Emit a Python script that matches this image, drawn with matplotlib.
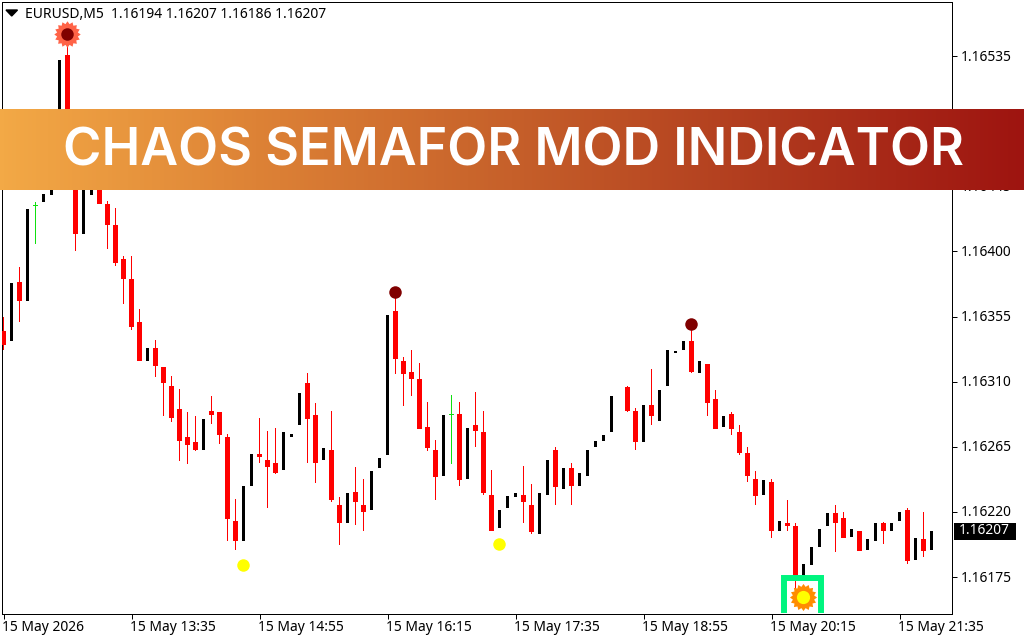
import numpy as np
import matplotlib
matplotlib.use("Agg")
import matplotlib.pyplot as plt
from matplotlib.colors import LinearSegmentedColormap
from matplotlib.lines import Line2D
from matplotlib.patches import Rectangle
from matplotlib.path import Path
from matplotlib.transforms import ScaledTranslation

BASE = 1.16
nan = float("nan")
# Prices in points above BASE (1 point = 0.00001)
opens = [345,338,379,366,432,434,439,470,536,463,412,439,446,433,418,395,381,351,324,333,
         320,307,291,272,268,263,290,289,272,214,200,238,260,256,254,249,272,280,309,287,
         256,263,225,212,234,225,221,250,259,359,324,317,312,279,263,245,287,288,243,280,
         275,232,209,223,230,232,225,205,232,263,236,250,238,245,265,269,275,nan,306,290,
         268,294,283,307,330,332,338,316,322,298,279,288,275,261,243,232,241,207,212,210,
         176,183,196,210,219,216,203,207,194,200,212,207,214,221,187,201,194]
highs = [355,378,389,429,434,440,463,532,543,470,456,453,446,435,430,397,397,360,333,339,
         320,314,305,289,286,284,300,289,274,229,238,260,285,276,278,275,274,302,316,295,
         264,290,230,233,251,243,248,257,356,368,327,332,323,296,270,287,301,296,278,303,
         290,249,221,231,233,252,239,233,256,265,250,254,247,263,269,273,300,nan,307,292,
         294,319,304,332,331,338,348,324,322,304,286,289,280,265,248,242,243,214,228,212,
         184,196,208,219,225,220,208,207,201,212,213,212,220,223,202,220,207]
lows = [332,338,351,366,405,434,439,470,484,400,412,439,433,402,390,364,346,324,324,313,
        286,282,255,253,262,263,281,267,200,194,200,238,254,223,246,249,272,280,254,240,
        256,227,197,212,211,207,221,250,259,315,293,300,277,262,228,245,253,238,243,265,
        232,207,209,223,230,212,205,205,232,225,236,225,238,245,265,269,275,nan,289,263,
        268,280,283,307,330,332,316,316,286,277,279,273,259,241,225,232,202,207,207,166,
        176,183,196,210,192,202,203,193,194,200,198,207,214,184,187,189,194]
closes = [335,378,366,429,432,440,463,532,487,412,456,453,433,418,392,381,348,324,333,321,
          309,285,269,266,263,284,287,273,215,200,238,260,258,251,247,275,274,302,284,254,
          264,228,212,233,227,220,248,257,356,326,315,312,277,264,244,287,287,242,278,276,
          233,207,221,231,233,227,206,233,256,237,250,238,247,263,269,273,300,nan,290,268,
          294,286,304,332,331,338,317,324,295,277,286,277,261,245,231,242,207,214,210,176,
          184,196,208,219,212,202,208,193,201,212,207,212,220,186,202,193,207]

# Semaphore signals: bar index and price in points
big_high_idx, big_high_val = [8], [550]
dot_high_idx, dot_high_val = [49, 86], [372, 350]
dot_low_idx, dot_low_val = [30, 62], [183, 198]
big_low_idx, big_low_val = [100], [161]

y_ticks = [1.16175, 1.16220, 1.16265, 1.16310, 1.16355, 1.16400, 1.16445, 1.16490, 1.16535]
x_tick_idx = [0, 16, 32, 48, 64, 80, 96, 112]
x_tick_labels = ["15 May 2026", "15 May 13:35", "15 May 14:55", "15 May 16:15",
                 "15 May 17:35", "15 May 18:55", "15 May 20:15", "15 May 21:35"]
title_text = "EURUSD,M5  1.16194 1.16207 1.16186 1.16207"
last_price = 1.16207
banner_text = "CHAOS SEMAFOR MOD INDICATOR"
banner_colors = ["#F3A946", "#DD8236", "#C6602A", "#B03A1E", "#9E1410"]

W, H = 1024, 640
FONT = "Noto Sans"
plt.rcParams["font.family"] = [FONT, "DejaVu Sans"]
fig = plt.figure(figsize=(W / 100, H / 100), dpi=100, facecolor="white")

def rect(x0, y0, x1, y1):
    return [x0 / W, 1 - y1 / H, (x1 - x0) / W, (y1 - y0) / H]

ax = fig.add_axes(rect(2.0, 1.5, 952.0, 613.5))
ax.set_xlim(-0.1875, 118.5625)
ax.set_ylim(BASE + 149.8e-5, BASE + 572.7e-5)

o, h, l, c = [np.array(v, float) * 1e-5 + BASE for v in (opens, highs, lows, closes)]
idx = np.arange(len(o))
down = c < o
up = c > o
doji = o == c

PX = 1 / 8          # one pixel in bar-index units
PY = 0.69e-5        # one pixel in price units
bar_kw = dict(antialiased=False, linewidth=0)
ax.bar(idx[down], (h - l)[down], bottom=l[down], width=PX, color="#FF0000", zorder=2, **bar_kw)
ax.bar(idx[down], (o - c)[down], bottom=c[down], width=5 * PX, color="#FF0000", zorder=3, **bar_kw)
ax.bar(idx[up], (c - o)[up], bottom=o[up], width=3 * PX, color="#000000", zorder=3, **bar_kw)
ax.bar(idx[doji], (h - l)[doji], bottom=l[doji], width=PX, color="#11E011", zorder=3, **bar_kw)
ax.bar(idx[doji], PY, bottom=o[doji] - PY / 2, width=5 * PX, color="#11E011", zorder=3, **bar_kw)

def burst(n=16, inner=0.8):
    ang = np.linspace(0, 2 * np.pi, 2 * n, endpoint=False)
    rad = np.where(np.arange(2 * n) % 2 == 0, 1.0, inner)
    p = np.c_[rad * np.sin(ang), rad * np.cos(ang)]
    return Path(np.vstack([p, p[0]]), closed=True)

def pts(v):
    return np.array(v, float) * 1e-5 + BASE

sun = burst()
mark_tf = ax.transData + ScaledTranslation(-1 / 100, 0, fig.dpi_scale_trans)
ax.plot(big_high_idx, pts(big_high_val), ls="", marker=sun, ms=19, mfc="#FF6347", mec="none", zorder=5, transform=mark_tf)
ax.plot(big_high_idx, pts(big_high_val), ls="", marker="o", ms=9, mfc="#800000", mec="none", zorder=6, transform=mark_tf)
ax.plot(dot_high_idx, pts(dot_high_val), ls="", marker="o", ms=9, mfc="#800000", mec="none", zorder=6, transform=mark_tf)
ax.plot(dot_low_idx, pts(dot_low_val), ls="", marker="o", ms=9, mfc="#FFFF00", mec="none", zorder=6, transform=mark_tf)
ax.plot(big_low_idx, pts(big_low_val), ls="", marker=sun, ms=19.5, mfc="#FF8C00", mec="none", zorder=6, transform=mark_tf)
ax.plot(big_low_idx, pts(big_low_val), ls="", marker="o", ms=9.5, mfc="#FFFF00", mec="none", zorder=7, transform=mark_tf)

ax.set_yticks(y_ticks)
ax.set_yticklabels([f"{t:.5f}" for t in y_ticks])
ax.yaxis.tick_right()
ax.set_xticks(x_tick_idx)
ax.set_xticklabels(x_tick_labels, ha="left")
ax.tick_params(axis="y", direction="out", length=3.6, width=0.72, pad=2.4, labelsize=9.9)
ax.tick_params(axis="x", direction="out", length=3.6, width=0.72, pad=1.0, labelsize=10)
up_1px = ScaledTranslation(0, 1 / 100, fig.dpi_scale_trans)
for lab in ax.get_yticklabels():
    lab.set_transform(lab.get_transform() + up_1px)
left_1px = ScaledTranslation(-1 / 100, 0, fig.dpi_scale_trans)
for lab in ax.get_xticklabels():
    lab.set_transform(lab.get_transform() + left_1px)
for s in ax.spines.values():
    s.set_linewidth(0.72)
    s.set_color("black")

# Header text
fig.text(25 / W, 1 - 14 / H, title_text, fontsize=10, va="center", ha="left", color="black")
fig.patches.append(plt.Polygon([[6 / W, 1 - 10 / H], [17.5 / W, 1 - 10 / H], [11.7 / W, 1 - 16 / H]],
                               closed=True, transform=fig.transFigure, color="black", figure=fig))

# Current price tag
fig.patches.append(Rectangle((954 / W, 1 - 540 / H), 62 / W, 17 / H, transform=fig.transFigure,
                             facecolor="black", edgecolor="none", figure=fig))
fig.text(959 / W, 1 - 531 / H, f"{last_price:.5f}", color="white", fontsize=9.9, va="center", ha="left")

# Highlight box around the bottom signal
fig.add_artist(Line2D(np.array([784, 784, 821, 821]) / W,
                      1 - np.array([613, 578, 578, 613]) / H,
                      color="#00F57F", lw=4.3, solid_joinstyle="miter", solid_capstyle="butt", zorder=20))

# Banner
bax = fig.add_axes(rect(0, 109, 1024, 190), zorder=30)
cmap = LinearSegmentedColormap.from_list("banner", banner_colors)
bax.imshow(np.linspace(0, 1, 1024)[None, :], aspect="auto", cmap=cmap, extent=[0, 1024, 190, 109])
bax.axis("off")
bax.text(513.5, 165.5, banner_text, color="white", fontsize=37.5, fontweight=600,
         family="Inter", ha="center", va="baseline")

fig.savefig("out.png", dpi=100, facecolor="white")
